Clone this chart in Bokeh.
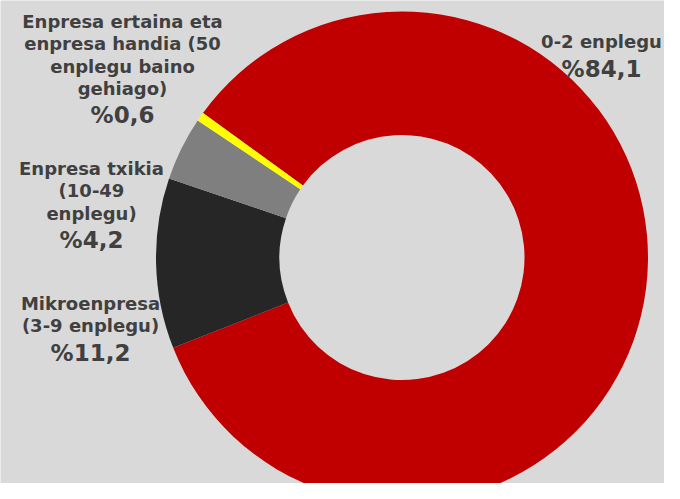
from bokeh.plotting import figure
from bokeh.models import Range1d, ColumnDataSource
from bokeh.core.properties import value
from bokeh.embed import file_html
from bokeh.resources import INLINE
import math

# ---- data ----
categories = ["0-2 enplegu", "Mikroenpresa (3-9 enplegu)",
              "Enpresa txikia (10-49 enplegu)",
              "Enpresa ertaina eta enpresa handia (50 enplegu baino gehiago)"]
shares = [84.1, 11.2, 4.2, 0.6]
pct_labels = ["%84,1", "%11,2", "%4,2", "%0,6"]
label_lines = [["0-2 enplegu"],
               ["Mikroenpresa", "(3-9 enplegu)"],
               ["Enpresa txikia", "(10-49", "enplegu)"],
               ["Enpresa ertaina eta", "enpresa handia (50", "enplegu baino", "gehiago)"]]
colors = ["#c00000", "#262626", "#7f7f7f", "#ffff00"]

# ---- layout ----
W, H = 664, 483
BG = "#d9d9d9"
TXT = "#404040"
FONT = value("DejaVu Sans")

def px(x):  # screen x -> data x
    return x

def py(y):  # screen y (down) -> data y (up)
    return H - y

cx, cy = px(401.5), py(257)
R_out, R_in = 246, 122.5
start0 = 144.0  # degrees, counter-clockwise from east; slices go clockwise

total = sum(shares)
starts, ends = [], []
a = start0
for s in shares:
    sweep = s / total * 360.0
    starts.append(math.radians(a))
    ends.append(math.radians(a - sweep))
    a -= sweep

p = figure(width=W, height=H, output_backend="svg", toolbar_location=None,
           x_range=Range1d(0, W), y_range=Range1d(0, H),
           min_border=0, outline_line_color=None)
p.axis.visible = False
p.grid.visible = False
p.background_fill_color = BG
p.border_fill_color = BG

src = ColumnDataSource(dict(x=[cx] * 4, y=[cy] * 4, s=starts, e=ends, c=colors))
p.annular_wedge(x="x", y="y", inner_radius=R_in, outer_radius=R_out,
                start_angle="s", end_angle="e", direction="clock",
                fill_color="c", line_color=None, source=src)

# label anchors (screen coords): center x, first line center y
anchors = [(601, 41), (90, 303), (91, 168), (122, 21)]
LINE = 22.3
for (ax, ay), lines, pct in zip(anchors, label_lines, pct_labels):
    ys = [py(ay + i * LINE) for i in range(len(lines))]
    p.text(x=[px(ax)] * len(lines), y=ys, text=lines, text_font=FONT,
           text_font_style="bold", text_font_size="18px", text_color=TXT,
           text_align="center", text_baseline="middle")
    yp = py(ay + (len(lines) - 1) * LINE + 27)
    p.text(x=[px(ax)], y=[yp], text=[pct], text_font=FONT,
           text_font_style="bold", text_font_size="23px", text_color=TXT,
           text_align="center", text_baseline="middle")

open("out.html", "w").write(file_html(p, INLINE))
